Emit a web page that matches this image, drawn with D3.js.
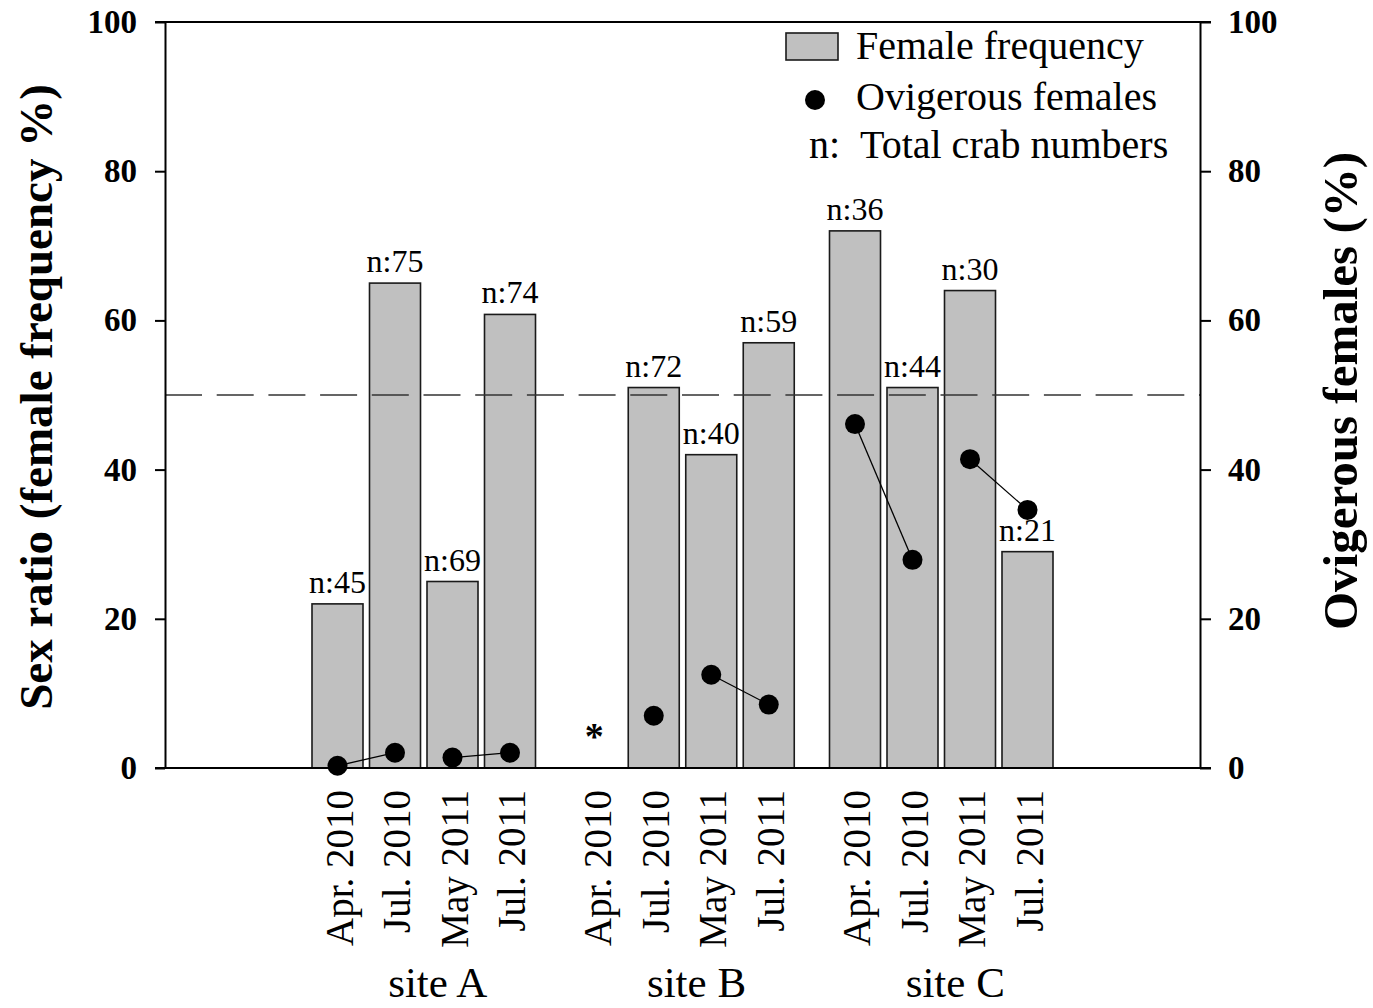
<!DOCTYPE html>
<html>
<head>
<meta charset="utf-8">
<script src="https://cdn.jsdelivr.net/npm/d3@7"></script>
<style>
  html, body { margin: 0; padding: 0; background: #fff; }
  svg { display: block; font-family: "Liberation Serif", "Times New Roman", serif; }
</style>
</head>
<body>
<svg id="chart" width="1373" height="1008"></svg>
<script>
// ---------------- data ----------------
const sites = ["site A", "site B", "site C"];
const months = ["Apr. 2010", "Jul. 2010", "May 2011", "Jul. 2011"];
const femaleFreqA = [22, 65, 25, 60.8];
const femaleFreqB = [null, 51, 42, 57];
const femaleFreqC = [72, 51, 64, 29];
const ovigerousA = [0.3, 2.05, 1.4, 2.05];
const ovigerousB = [null, 7.0, 12.5, 8.5];
const ovigerousC = [46.1, 27.9, 41.4, 34.6];
const crabNA = [45, 75, 69, 74];
const crabNB = [null, 72, 40, 59];
const crabNC = [36, 44, 30, 21];
const missingMarkValue = 4.6;   // '*' marker for site B Apr. 2010 (no data)
const yTicks = [0, 20, 40, 60, 80, 100];
const referenceLine = 50;

const femaleFreq = [femaleFreqA, femaleFreqB, femaleFreqC];
const ovigerous = [ovigerousA, ovigerousB, ovigerousC];
const crabN = [crabNA, crabNB, crabNC];

// ---------------- layout ----------------
const svg = d3.select("#chart");
const L = 165, R = 1200, T = 22, B = 768;
const groupStep = 4.5;

const x = d3.scaleLinear().domain([-3, 15]).range([L, R]);
const yL = d3.scaleLinear().domain([0, 100]).range([B, T]);
const yR = d3.scaleLinear().domain([0, 100]).range([B, T]);
const slot = x(1) - x(0);
const barW = slot * 0.887;

const rows = [];
sites.forEach((s, g) => {
  months.forEach((m, i) => {
    rows.push({site: s, g, i, month: m, pos: g * groupStep + i,
      ff: femaleFreq[g][i], ov: ovigerous[g][i], n: crabN[g][i]});
  });
});

// bars
svg.append("g").selectAll("rect")
  .data(rows.filter(d => d.ff != null))
  .join("rect")
  .attr("x", d => x(d.pos) - barW / 2)
  .attr("width", barW)
  .attr("y", d => yL(d.ff))
  .attr("height", d => yL(0) - yL(d.ff))
  .attr("fill", "#c0c0c0")
  .attr("stroke", "#1a1a1a")
  .attr("stroke-width", 1.6);

// reference dashed line (drawn over bars, as in the reference)
svg.append("line")
  .attr("x1", L).attr("x2", R)
  .attr("y1", yL(referenceLine)).attr("y2", yL(referenceLine))
  .attr("stroke", "#333").attr("stroke-width", 1.6)
  .attr("stroke-dasharray", "37 14.7");

// n labels
svg.append("g").selectAll("text")
  .data(rows.filter(d => d.n != null))
  .join("text")
  .attr("x", d => x(d.pos))
  .attr("y", d => yL(d.ff) - 11)
  .attr("text-anchor", "middle")
  .attr("font-size", 32)
  .attr("fill", "#000")
  .text(d => "n:" + d.n);

// connecting lines for ovigerous pairs (Apr-Jul 2010, May-Jul 2011)
const pairs = [];
rows.forEach(d => {
  if (d.i % 2 === 0) {
    const nxt = rows.find(e => e.g === d.g && e.i === d.i + 1);
    if (d.ov != null && nxt && nxt.ov != null) pairs.push([d, nxt]);
  }
});
svg.append("g").selectAll("line")
  .data(pairs)
  .join("line")
  .attr("x1", d => x(d[0].pos)).attr("y1", d => yR(d[0].ov))
  .attr("x2", d => x(d[1].pos)).attr("y2", d => yR(d[1].ov))
  .attr("stroke", "#000").attr("stroke-width", 1.3);

// dots
svg.append("g").selectAll("circle")
  .data(rows.filter(d => d.ov != null))
  .join("circle")
  .attr("cx", d => x(d.pos))
  .attr("cy", d => yR(d.ov))
  .attr("r", 10)
  .attr("fill", "#000");

// missing marker
rows.filter(d => d.ff == null).forEach(d => {
  svg.append("text")
    .attr("x", x(d.pos) - 2)
    .attr("y", yR(missingMarkValue) + 15)
    .attr("text-anchor", "middle")
    .attr("font-size", 38)
    .attr("font-weight", "bold")
    .text("*");
});

// frame
svg.append("line").attr("x1", L - 10).attr("x2", R + 11).attr("y1", T).attr("y2", T)
  .attr("stroke", "#000").attr("stroke-width", 2);
svg.append("line").attr("x1", L - 10).attr("x2", R + 11).attr("y1", B).attr("y2", B)
  .attr("stroke", "#000").attr("stroke-width", 2);

// axes
const axL = svg.append("g").attr("transform", `translate(${L},0)`)
  .call(d3.axisLeft(yL).tickValues(yTicks).tickSize(10).tickSizeOuter(0).tickPadding(18).tickFormat(d3.format("d")));
const axR = svg.append("g").attr("transform", `translate(${R},0)`)
  .call(d3.axisRight(yR).tickValues(yTicks).tickSize(11).tickSizeOuter(0).tickPadding(17).tickFormat(d3.format("d")));
[axL, axR].forEach(ax => {
  ax.select(".domain").attr("stroke", "#000").attr("stroke-width", 2);
  ax.selectAll(".tick line").attr("stroke", "#000").attr("stroke-width", 2);
  ax.selectAll(".tick text")
    .attr("font-family", "Liberation Serif, Times New Roman, serif")
    .attr("font-size", 33).attr("font-weight", "bold").attr("fill", "#000");
});

// x category labels (rotated)
svg.append("g").selectAll("text")
  .data(rows)
  .join("text")
  .attr("transform", d => `translate(${x(d.pos) + 15},${B + 22}) rotate(-90)`)
  .attr("text-anchor", "end")
  .attr("font-size", 39)
  .attr("fill", "#000")
  .text(d => d.month);

// site labels
svg.append("g").selectAll("text")
  .data(sites)
  .join("text")
  .attr("x", (d, g) => x(g * groupStep + 1.5) + 14)
  .attr("y", 997)
  .attr("text-anchor", "middle")
  .attr("font-size", 43)
  .attr("fill", "#000")
  .text(d => d);

// axis titles
svg.append("text")
  .attr("transform", `translate(52,${(T + B) / 2 + 2}) rotate(-90)`)
  .attr("text-anchor", "middle")
  .attr("font-size", 47).attr("font-weight", "bold")
  .text("Sex ratio (female frequency %)");
svg.append("text")
  .attr("transform", `translate(1357,${(T + B) / 2 - 4}) rotate(-90)`)
  .attr("text-anchor", "middle")
  .attr("font-size", 49).attr("font-weight", "bold")
  .text("Ovigerous females (%)");

// legend
const lg = svg.append("g");
lg.append("rect").attr("x", 786).attr("y", 33).attr("width", 52).attr("height", 27)
  .attr("fill", "#c0c0c0").attr("stroke", "#1a1a1a").attr("stroke-width", 1.6);
lg.append("text").attr("x", 856).attr("y", 59).attr("font-size", 40).text("Female frequency");
lg.append("circle").attr("cx", 815).attr("cy", 100).attr("r", 10).attr("fill", "#000");
lg.append("text").attr("x", 856).attr("y", 110).attr("font-size", 40).text("Ovigerous females");
lg.append("text").attr("x", 809).attr("y", 158).attr("font-size", 40).text("n:");
lg.append("text").attr("x", 860).attr("y", 158).attr("font-size", 40).text("Total crab numbers");
</script>
</body>
</html>
